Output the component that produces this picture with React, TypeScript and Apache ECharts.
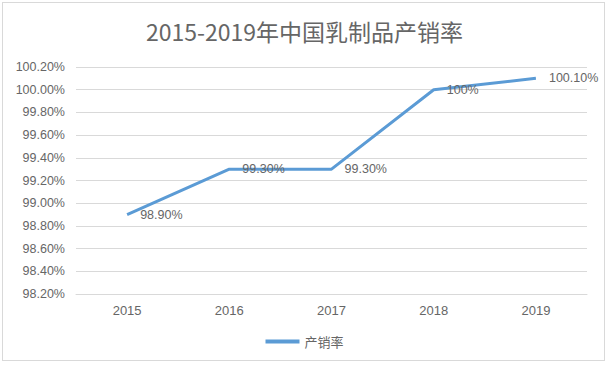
import React, { useEffect, useRef } from "react";
import * as echarts from "echarts";

const title = "2015-2019年中国乳制品产销率";
const seriesName = "产销率";
const years = ["2015", "2016", "2017", "2018", "2019"];
const rates = [98.9, 99.3, 99.3, 100.0, 100.1];
const labelTexts = ["98.90%", "99.30%", "99.30%", "100%", "100.10%"];

export default function App() {
  const ref = useRef<HTMLDivElement>(null);
  useEffect(() => {
    const chart = echarts.init(ref.current!, null, { renderer: "svg" });
    const numFont = "Liberation Sans, Arial, sans-serif";
    const txt = "#666666";
    chart.setOption({
      animation: false,
      backgroundColor: "transparent",
      title: {
        text: title,
        left: "center",
        top: 14,
        textStyle: { fontSize: 23, fontWeight: "normal", color: txt, fontFamily: "Noto Sans CJK SC, sans-serif" },
      },
      grid: { left: 76, right: 22, top: 67, bottom: 71 },
      xAxis: {
        type: "category",
        data: years,
        boundaryGap: true,
        axisLine: { lineStyle: { color: "#d9d9d9" } },
        axisTick: { show: false },
        axisLabel: { color: txt, fontSize: 13, margin: 10, fontFamily: numFont },
      },
      yAxis: {
        type: "value",
        min: 98.2,
        max: 100.2,
        interval: 0.2,
        axisLine: { show: false },
        axisTick: { show: false },
        splitLine: { lineStyle: { color: "#d9d9d9" } },
        axisLabel: {
          color: txt,
          fontSize: 12.5,
          margin: 11,
          fontFamily: numFont,
          formatter: (v: number) => v.toFixed(2) + "%",
        },
      },
      legend: {
        bottom: 12,
        left: "center",
        itemWidth: 34,
        itemHeight: 4,
        icon: "rect",
        textStyle: { color: txt, fontSize: 13, fontFamily: "Noto Sans CJK SC, sans-serif" },
        data: [seriesName],
      },
      series: [
        {
          name: seriesName,
          type: "line",
          data: rates,
          showSymbol: true,
          symbol: "circle",
          symbolSize: 0.1,
          lineStyle: { color: "#5b9bd5", width: 3 },
          itemStyle: { color: "#5b9bd5" },
          label: {
            show: true,
            position: "right",
            distance: 13,
            color: txt,
            fontSize: 12.5,
            fontFamily: numFont,
            formatter: (p: any) => labelTexts[p.dataIndex],
          },
        },
      ],
    });
    return () => chart.dispose();
  }, []);
  return (
    <div
      style={{
        position: "fixed",
        left: 0,
        top: 0,
        width: 609,
        height: 365,
        background: "#fff",
      }}
    >
      <div
        style={{
          position: "absolute",
          left: 2,
          top: 2,
          width: 603,
          height: 359,
          border: "1px solid #d9d9d9",
          boxSizing: "border-box",
        }}
      />
      <div ref={ref} style={{ position: "absolute", left: 0, top: 0, width: 609, height: 365 }} />
    </div>
  );
}
